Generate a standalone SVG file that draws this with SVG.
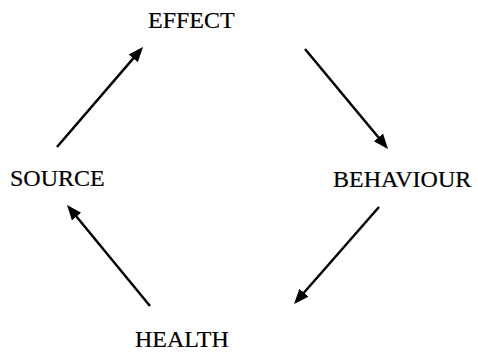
<svg xmlns="http://www.w3.org/2000/svg" width="478" height="354" viewBox="0 0 478 354">
<style>
.lbl{font-family:"Liberation Serif","Times New Roman",serif;font-size:24px;fill:#000;stroke:#000;stroke-width:0.2}
.edge{stroke:#000;stroke-width:2.5;fill:none;marker-end:url(#ah)}
</style>
<defs>
<marker id="ah" markerUnits="userSpaceOnUse" markerWidth="17" markerHeight="13" refX="7" refY="6" orient="auto">
<path d="M0,0 L15,6 L0,12 z" fill="#000"/>
</marker>
</defs>
<rect width="478" height="354" fill="#fff"/>
<g id="connectors">
<line class="edge" x1="57" y1="147" x2="137.8" y2="53.1"/>
<line class="edge" x1="305" y1="49" x2="382.9" y2="142.8"/>
<line class="edge" x1="379" y1="207" x2="299.3" y2="298"/>
<line class="edge" x1="150" y1="306" x2="72.1" y2="211.2"/>
</g>
<g id="effect"><text class="lbl" x="148" y="28">EFFECT</text></g>
<g id="behaviour"><text class="lbl" x="333" y="187">BEHAVIOUR</text></g>
<g id="health"><text class="lbl" x="135" y="347">HEALTH</text></g>
<g id="source"><text class="lbl" x="10" y="186">SOURCE</text></g>
</svg>
